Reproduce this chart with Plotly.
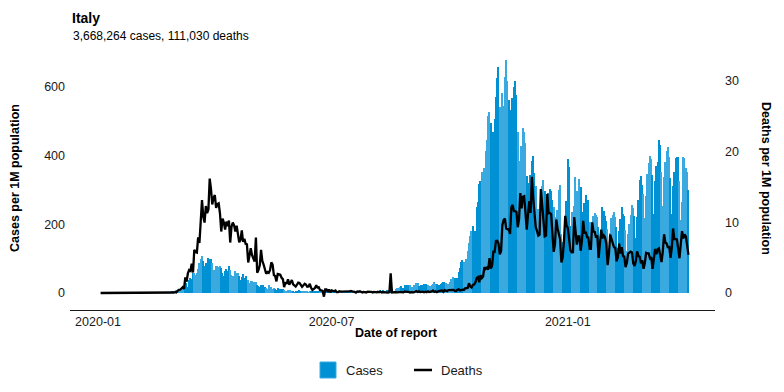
import pandas as pd
import plotly.graph_objects as go

# ---------------- data (per 1M population, WHO date of report) ----------------
start_date = "2020-01-03"
end_date = "2021-04-05"

cases_2020_01 = [0, 0, 0, 0, 0, 0, 0, 0, 0, 0, 0, 0, 0, 0, 0, 0, 0, 0, 0, 0,
                 0, 0, 0, 0, 0, 0, 0, 0, 0.03]
cases_2020_02 = [0, 0, 0, 0, 0, 0, 0.02, 0, 0, 0, 0, 0, 0, 0, 0, 0, 0, 0, 0, 0,
                 0, 0.28, 1.03, 1.29, 1.19, 1.54, 2.17, 3.35, 3.86]
cases_2020_03 = [4.0, 9.4, 5.7, 7.7, 9.7, 12.7, 12.9, 20.7, 24.7, 29.8,
                 16.2, 38.3, 43.9, 42.2, 57.9, 59.5, 53.6, 58.4, 69.7, 88.2,
                 99.2, 108.6, 92.1, 79.3, 87.0, 86.3, 102.8, 97.9, 99.0, 86.4, 67.1]
cases_2020_04 = [67.1, 79.2, 77.3, 76.0, 79.6, 71.5, 59.6, 50.3, 63.6, 69.6,
                 65.5, 77.8, 67.8, 52.2, 49.2, 44.2, 62.7, 57.9, 57.8, 50.5,
                 37.4, 45.2, 55.8, 43.8, 50.0, 39.0, 38.5, 28.8, 34.6, 34.6]
cases_2020_05 = [31.0, 32.6, 31.5, 23.0, 20.2, 17.8, 23.9, 23.2, 22.0, 17.9,
                 13.3, 12.3, 23.2, 14.7, 16.4, 13.1, 14.5, 11.2, 7.5, 13.5,
                 11.0, 10.6, 10.8, 11.1, 8.8, 5.0, 6.6, 9.7, 9.8, 8.5, 6.9]
cases_2020_06 = [5.9, 2.9, 5.3, 5.3, 2.9, 8.6, 4.5, 3.3, 4.6, 4.7,
                 3.3, 6.3, 2.7, 5.7, 5.6, 5.0, 3.5, 5.5, 5.5, 4.2,
                 4.3, 3.7, 3.6, 2.0, 3.1, 4.9, 4.3, 2.9, 2.9, 2.1]
cases_2020_07 = [2.4, 3.1, 3.3, 3.7, 3.9, 3.2, 3.2, 3.0, 3.6, 3.8,
                 4.6, 3.8, 3.1, 2.8, 1.9, 2.7, 3.8, 3.8, 3.9, 4.0,
                 3.6, 2.8, 4.1, 4.9, 5.2, 4.6, 4.1, 2.8, 3.0, 3.7, 4.6]
cases_2020_08 = [6.3, 4.9, 4.0, 2.6, 3.1, 6.4, 6.7, 9.1, 5.7, 7.7,
                 4.3, 6.8, 8.0, 8.7, 9.5, 10.4, 7.9, 5.3, 6.7, 10.6,
                 14.0, 15.7, 17.7, 20.0, 15.8, 14.5, 22.6, 23.4, 24.2, 23.9, 22.6]
cases_2020_09 = [16.5, 16.2, 22.0, 23.1, 28.7, 28.1, 21.5, 18.4, 22.7, 23.8,
                 26.5, 26.8, 24.9, 24.2, 16.7, 20.4, 24.1, 26.3, 31.6, 27.1,
                 26.3, 22.4, 23.1, 27.2, 29.6, 31.7, 31.0, 29.3, 24.8, 27.3]
cases_2020_10 = [30.7, 42.2, 41.4, 47.1, 42.7, 37.4, 44.4, 60.9, 73.9, 89.0,
                 94.8, 90.4, 76.5, 97.8, 121.5, 145.9, 165.8, 181.0, 193.9, 154.7,
                 180.2, 251.8, 266.4, 317.2, 325.5, 352.5, 281.9, 364.4, 414.1, 444.5, 515.0]
cases_2020_11 = [526.2, 495.5, 368.7, 468.0, 506.2, 571.7, 626.4, 659.6, 540.4, 418.7,
                 581.5, 546.1, 629.2, 677.6, 617.2, 563.0, 453.2, 533.3, 568.0, 599.4,
                 617.0, 576.0, 469.5, 379.9, 384.9, 428.3, 480.5, 469.7, 436.1, 342.1]
cases_2020_12 = [271.3, 320.6, 343.1, 384.8, 399.3, 348.8, 312.9, 227.3, 245.9, 211.3,
                 281.6, 310.3, 329.7, 297.2, 199.3, 245.9, 291.1, 302.1, 298.1, 270.2,
                 250.2, 180.1, 220.6, 240.6, 298.9, 315.4, 172.4, 147.7, 142.2, 186.0, 268.4]
cases_2021_01 = [389.0, 368.0, 196.0, 236.0, 178.9, 254.8, 336.8, 298.5, 290.5, 331.0,
                 308.6, 207.6, 236.0, 261.3, 285.7, 267.5, 270.2, 207.8, 146.2, 173.9,
                 224.8, 233.2, 225.9, 220.9, 192.7, 141.8, 175.5, 251.9, 238.1, 224.9, 210.7]
cases_2021_02 = [186.4, 131.3, 176.1, 218.5, 226.3, 235.6, 222.7, 192.9, 132.0, 179.7,
                 214.6, 250.9, 230.4, 224.2, 183.4, 121.8, 172.1, 200.0, 228.0, 256.4,
                 247.4, 222.9, 159.5, 220.6, 272.1, 329.5, 339.6, 313.4]
cases_2021_03 = [289.2, 217.3, 283.0, 346.0, 378.8, 398.2, 391.7, 344.0, 230.3, 327.2,
                 371.3, 381.1, 444.4, 431.8, 353.1, 252.9, 337.9, 382.0, 413.1, 426.4,
                 394.8, 334.0, 229.4, 310.9, 352.3, 392.6, 395.0, 397.4, 324.9, 214.0, 265.4]
cases_2021_04 = [396.0, 391.8, 363.4, 352.2, 298.6]

deaths_2020_01 = [0, 0, 0, 0, 0, 0, 0, 0, 0, 0, 0, 0, 0, 0, 0, 0, 0, 0, 0, 0,
                  0, 0, 0, 0, 0, 0, 0, 0, 0]
deaths_2020_02 = [0, 0, 0, 0, 0, 0, 0, 0, 0, 0, 0, 0, 0, 0, 0, 0, 0, 0, 0, 0,
                  0, 0.02, 0.02, 0.02, 0.07, 0.05, 0.03, 0.08, 0.07]
deaths_2020_03 = [0.13, 0.08, 0.30, 0.45, 0.46, 0.68, 0.81, 0.60, 2.20, 1.61,
                  2.78, 3.25, 3.13, 4.14, 2.90, 6.10, 5.78, 5.72, 7.87, 7.07,
                  10.39, 13.14, 10.79, 9.96, 12.31, 11.32, 11.80, 16.2, 14.73, 12.52, 13.45]
deaths_2020_04 = [13.87, 12.04, 12.59, 12.69, 11.28, 8.70, 10.54, 10.01, 8.98, 10.11,
                  9.44, 10.26, 7.14, 9.38, 9.97, 9.58, 8.70, 9.53, 7.99, 7.17,
                  7.52, 8.85, 7.24, 7.69, 6.96, 6.88, 4.31, 5.52, 6.33, 5.35]
deaths_2020_05 = [4.72, 4.46, 7.85, 2.88, 3.23, 3.91, 6.11, 4.54, 4.03, 3.21,
                  2.73, 2.97, 2.85, 3.23, 4.34, 4.01, 2.53, 2.40, 1.64, 2.68,
                  2.67, 2.58, 2.15, 1.97, 0.83, 1.52, 1.29, 1.94, 1.16, 1.44, 1.84]
deaths_2020_06 = [1.24, 0.99, 0.91, 1.18, 1.46, 1.41, 1.19, 0.88, 1.08, 1.31,
                  1.18, 0.88, 0.93, 1.29, 0.73, 0.43, 0.56, 0.71, 1.09, 0.78,
                  0.81, 0.40, 0.38, 0.30, -0.52, 0.50, 0.50, 0.13, 0.50, 0.10]
deaths_2020_07 = [0.38, 0.35, 0.25, 0.35, 0.12, 0.12, 0.25, 0.20, 0.20, 0.22,
                  0.12, 0.12, 0.15, 0.22, 0.22, 0.30, 0.18, 0.18, 0.15, 0.05,
                  0.22, 0.18, 0.25, 0.18, 0.08, 0.15, 0.12, 0.08, 0.18, 0.12, 0.15]
deaths_2020_08 = [0.15, 0.08, 0.15, 0.08, 0.10, 0.17, 0.10, 0.20, 0.07, 0.13,
                  0.10, 0.17, 0.10, 0.05, 0.12, 2.80, 0.08, 0.12, 0.07, 0.13,
                  0.10, 0.15, 0.13, 0.12, 0.07, 0.08, 0.22, 0.15, 0.15, 0.15, 0.07]
deaths_2020_09 = [0.13, 0.10, 0.10, 0.17, 0.28, 0.15, 0.23, 0.13, 0.17, 0.18,
                  0.10, 0.18, 0.12, 0.23, 0.15, 0.15, 0.23, 0.35, 0.17, 0.25,
                  0.12, 0.23, 0.33, 0.33, 0.35, 0.17, 0.40, 0.28, 0.27, 0.40]
deaths_2020_10 = [0.40, 0.38, 0.45, 0.45, 0.30, 0.27, 0.46, 0.51, 0.36, 0.46,
                  0.48, 0.43, 0.65, 0.68, 0.71, 1.38, 0.91, 0.78, 1.14, 1.21,
                  1.47, 2.10, 2.25, 1.51, 2.50, 2.12, 2.34, 3.66, 3.40, 3.60, 3.30]
deaths_2020_11 = [4.92, 3.45, 3.86, 5.85, 5.83, 7.37, 7.39, 7.04, 5.48, 5.90,
                  9.61, 10.32, 10.54, 9.11, 9.01, 9.05, 8.35, 12.11, 12.47, 11.58,
                  11.58, 11.46, 9.31, 10.44, 14.13, 11.96, 13.62, 13.70, 11.37, 8.96]
deaths_2020_12 = [11.13, 13.01, 11.33, 16.45, 13.49, 10.97, 9.34, 8.75, 8.13, 8.27,
                  14.70, 12.61, 10.75, 8.02, 8.13, 14.02, 11.27, 11.32, 11.17, 9.01,
                  5.83, 6.88, 10.40, 9.16, 8.37, 7.60, 4.32, 5.05, 7.37, 10.92, 9.53]
deaths_2021_01 = [9.19, 7.65, 6.03, 5.75, 5.77, 10.75, 9.08, 6.86, 8.00, 8.00,
                  5.98, 7.42, 10.21, 8.40, 8.65, 7.90, 7.87, 6.25, 6.25, 9.99,
                  8.68, 8.63, 7.82, 8.15, 4.95, 6.96, 8.96, 7.74, 8.15, 7.90, 6.97]
deaths_2021_02 = [3.93, 5.45, 8.27, 7.55, 6.97, 6.48, 6.38, 4.49, 5.09, 6.99,
                  5.57, 6.48, 5.24, 5.15, 3.66, 4.27, 5.57, 5.75, 5.85, 5.75,
                  4.19, 3.84, 4.54, 5.90, 5.27, 5.10, 4.19, 4.64]
deaths_2021_03 = [3.43, 4.22, 5.68, 5.62, 5.62, 4.92, 5.09, 3.43, 5.27, 6.23,
                  5.50, 6.18, 6.30, 5.25, 4.37, 5.86, 8.32, 7.14, 7.01, 6.39,
                  6.64, 4.97, 6.39, 9.13, 7.62, 7.62, 7.57, 6.30, 4.92, 6.91, 8.76]
deaths_2021_04 = [7.74, 8.30, 7.97, 6.23, 5.40]

x_tick_vals = ["2020-01-01", "2020-07-01", "2021-01-01"]
x_tick_text = ["2020-01", "2020-07", "2021-01"]
y_cases_ticks = [0, 200, 400, 600]
y_deaths_ticks = [0, 10, 20, 30]
legend_labels = ["Cases", "Deaths"]

title_text = "Italy"
subtitle_text = "3,668,264 cases, 111,030 deaths"

# ---------------- assemble ----------------
cases = (cases_2020_01 + cases_2020_02 + cases_2020_03 + cases_2020_04 + cases_2020_05 +
         cases_2020_06 + cases_2020_07 + cases_2020_08 + cases_2020_09 + cases_2020_10 +
         cases_2020_11 + cases_2020_12 + cases_2021_01 + cases_2021_02 + cases_2021_03 +
         cases_2021_04)
deaths = (deaths_2020_01 + deaths_2020_02 + deaths_2020_03 + deaths_2020_04 + deaths_2020_05 +
          deaths_2020_06 + deaths_2020_07 + deaths_2020_08 + deaths_2020_09 + deaths_2020_10 +
          deaths_2020_11 + deaths_2020_12 + deaths_2021_01 + deaths_2021_02 + deaths_2021_03 +
          deaths_2021_04)
dates = pd.date_range(start_date, end_date, freq="D")
assert len(dates) == len(cases) == len(deaths), (len(dates), len(cases), len(deaths))

DARK = "#0091D5"
LIGHT = "#3AA9E0"
week_parity = ((dates - pd.Timestamp("2019-12-30")).days // 7) % 2
bar_colors = [DARK if w == 0 else LIGHT for w in week_parity]

FONT = "Liberation Sans, Arial, Helvetica, sans-serif"
TXT = "#1a1a1a"

fig = go.Figure()
fig.add_trace(go.Bar(x=dates, y=cases, name=legend_labels[0],
                     marker=dict(color=bar_colors, line=dict(width=0)),
                     yaxis="y", showlegend=False))
fig.add_trace(go.Scatter(x=dates, y=deaths, name=legend_labels[1], mode="lines",
                         line=dict(color="black", width=2.3), yaxis="y2", showlegend=False))

# The page body has an 8px margin: the figure is drawn 8px in from the
# top-left corner of the screenshot. Screen plot area: x 70..715, y 55..310.
def px_x(p):
    return (p - 70) / 645.0

def px_y(p):
    return (310 - p) / 255.0

fig.update_layout(
    width=776, height=384,
    margin=dict(l=62, r=69, t=47, b=82, pad=0),
    paper_bgcolor="white", plot_bgcolor="white",
    font=dict(family=FONT, color=TXT, size=12),
    bargap=0,
    showlegend=False,
    xaxis=dict(type="date", range=["2019-12-10 04:00", "2021-04-25 16:00"],
               tickvals=x_tick_vals, ticktext=x_tick_text, ticks="",
               showgrid=False, zeroline=False, showline=True, linecolor="#1a1a1a",
               linewidth=1, tickfont=dict(size=12.5, color=TXT)),
    yaxis=dict(range=[-49.5, 693.2], tickvals=y_cases_ticks, ticks="",
               showgrid=False, zeroline=False, showline=False,
               tickfont=dict(size=12.5, color=TXT), ticklabelstandoff=4),
    yaxis2=dict(range=[-2.406, 33.68], tickvals=y_deaths_ticks, ticks="",
                overlaying="y", side="right", showgrid=False, zeroline=False,
                showline=False, tickfont=dict(size=12.5, color=TXT), ticklabelstandoff=9),
    shapes=[
        dict(type="rect", xref="paper", yref="paper",
             x0=px_x(320), x1=px_x(336), y0=px_y(378), y1=px_y(362),
             fillcolor=DARK, line=dict(color=LIGHT, width=1)),
        dict(type="line", xref="paper", yref="paper",
             x0=px_x(414), x1=px_x(432), y0=px_y(370), y1=px_y(370),
             line=dict(color="black", width=2.5)),
    ],
    annotations=[
        dict(text="<b>" + title_text + "</b>", x=px_x(71), y=px_y(9), xref="paper", yref="paper",
             xanchor="left", yanchor="top", showarrow=False, borderpad=0,
             font=dict(size=14, color="black")),
        dict(text=subtitle_text, x=px_x(71), y=px_y(36), xref="paper", yref="paper",
             xanchor="left", yanchor="middle", showarrow=False, font=dict(size=12, color="black")),
        dict(text="<b>Cases per 1M population</b>", x=px_x(15), y=px_y(178), xref="paper", yref="paper",
             xanchor="center", yanchor="middle", textangle=-90, showarrow=False,
             font=dict(size=12.5, color="black")),
        dict(text="<b>Deaths per 1M population</b>", x=px_x(766), y=px_y(178), xref="paper", yref="paper",
             xanchor="center", yanchor="middle", textangle=90, showarrow=False,
             font=dict(size=12.5, color="black")),
        dict(text="<b>Date of report</b>", x=px_x(396), y=px_y(333), xref="paper", yref="paper",
             xanchor="center", yanchor="middle", showarrow=False,
             font=dict(size=12.5, color="black")),
        dict(text=legend_labels[0], x=px_x(344), y=px_y(370), xref="paper", yref="paper",
             xanchor="left", yanchor="middle", showarrow=False,
             font=dict(size=13, color=TXT)),
        dict(text=legend_labels[1], x=px_x(439), y=px_y(370), xref="paper", yref="paper",
             xanchor="left", yanchor="middle", showarrow=False,
             font=dict(size=13, color=TXT)),
    ],
)

fig.write_html("out.html")
